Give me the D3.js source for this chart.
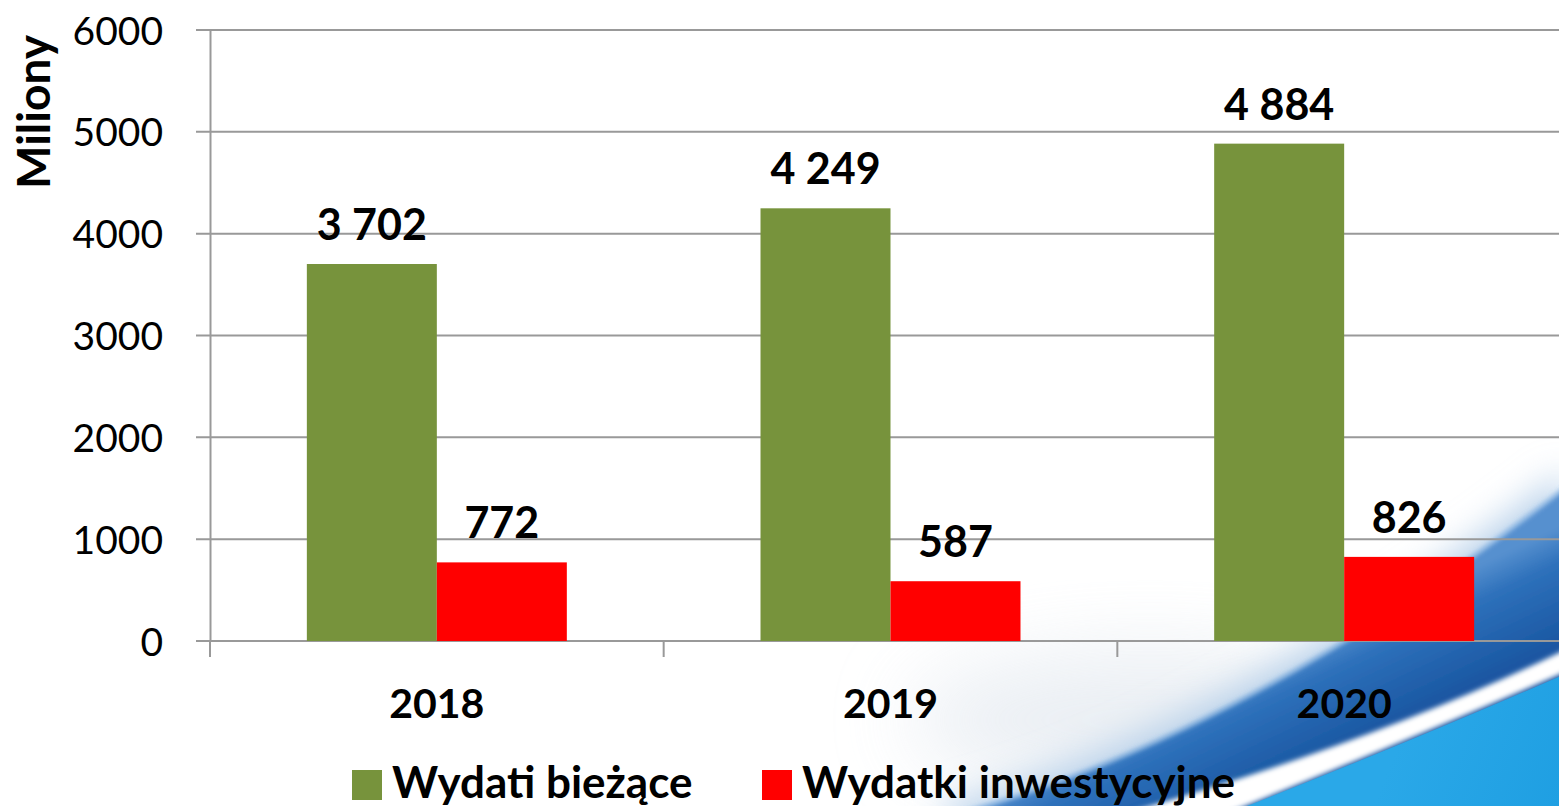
<!DOCTYPE html>
<html><head><meta charset="utf-8">
<script src="https://cdn.jsdelivr.net/npm/d3@7"></script>
<style>html,body{margin:0;padding:0;background:#fff;overflow:hidden}svg{display:block}</style>
</head><body>
<script>
const years = ["2018", "2019", "2020"];
const seriesNames = ["Wydati bieżące", "Wydatki inwestycyjne"];
const biezace = [3702, 4249, 4884];
const inwestycyjne = [772, 587, 826];
const yTicks = [0, 1000, 2000, 3000, 4000, 5000, 6000];
const colors = ["#77933c", "#ff0000"];
const yTitle = "Miliony";

const W = 1559, H = 806;
const FONT = "Lato, 'Open Sans', sans-serif";
const svg = d3.select("body").append("svg").attr("width", W).attr("height", H);
const defs = svg.append("defs");

// background swoosh (decoration)
function blur(id, sd) {
  const f = defs.append("filter").attr("id", id).attr("x","-50%").attr("y","-50%").attr("width","200%").attr("height","200%");
  f.append("feGaussianBlur").attr("stdDeviation", sd);
}
blur("blurHalo", 18); blur("blurBand", 2.5); blur("blurStripe", 2.5); blur("blurHaze", 40);

const g1 = defs.append("linearGradient").attr("id","darkBand").attr("gradientUnits","userSpaceOnUse")
  .attr("x1",1300).attr("y1",650).attr("x2",1345).attr("y2",745);
g1.append("stop").attr("offset",0).attr("stop-color","#5690cf");
g1.append("stop").attr("offset",0.3).attr("stop-color","#2e71bb");
g1.append("stop").attr("offset",1).attr("stop-color","#1a57a2");
const g2 = defs.append("linearGradient").attr("id","lightBlue").attr("gradientUnits","userSpaceOnUse")
  .attr("x1",1400).attr("y1",740).attr("x2",1559).attr("y2",806);
g2.append("stop").attr("offset",0).attr("stop-color","#2aa8e8");
g2.append("stop").attr("offset",1).attr("stop-color","#1f9fe2");

const bg = svg.append("g");
bg.append("ellipse").attr("cx",1150).attr("cy",720).attr("rx",240).attr("ry",70)
  .attr("fill","#e2e8ef").attr("opacity",0.7).attr("filter","url(#blurHaze)");
const bandD = "M950,816 Q1250,735 1572,482 L1600,840 L950,840 Z";
bg.append("path").attr("d", bandD).attr("fill","#b5cfe9").attr("filter","url(#blurHalo)")
  .attr("transform","translate(-6,-10)");
bg.append("path").attr("d", bandD).attr("fill","url(#darkBand)").attr("filter","url(#blurBand)");
bg.append("path").attr("d", "M950,816 Q1250,735 1572,482").attr("fill","none")
  .attr("stroke","#a9cdf0").attr("stroke-width",3).attr("opacity",0.7).attr("filter","url(#blurStripe)");
bg.append("path").attr("d","M1130,812 Q1380,740 1565,650 L1565,672 Q1420,735 1230,812 Z")
  .attr("fill","#ffffff").attr("filter","url(#blurStripe)");
bg.append("path").attr("d","M1232,812 Q1422,737 1565,674 L1565,812 Z")
  .attr("fill","url(#lightBlue)");

// scales
const x0 = d3.scaleBand().domain(years).range([210, 1571]).padding(0);
const x1 = d3.scaleBand().domain(seriesNames).range([0, x0.bandwidth()]).paddingInner(0).paddingOuter(0.745);
const y = d3.scaleLinear().domain([0, 6000]).range([641, 30]);

// gridlines
const grid = svg.append("g");
grid.selectAll("line").data(yTicks).join("line")
  .attr("x1", 196).attr("x2", W).attr("y1", d => y(d)).attr("y2", d => y(d))
  .attr("stroke", "#999").attr("stroke-width", 2);

// y axis
const yAxis = svg.append("g").attr("transform","translate(210,0)")
  .call(d3.axisLeft(y).tickValues(yTicks).tickSize(0).tickPadding(47).tickFormat(d3.format("d")));
yAxis.select(".domain").attr("stroke","#999").attr("stroke-width",2);
yAxis.selectAll("text").attr("font-family",FONT).attr("font-size",39).attr("fill","#000").attr("dy","0.36em");

// x axis
const xAxis = svg.append("g").attr("transform","translate(0,641)")
  .call(d3.axisBottom(x0).tickSize(0).tickPadding(0));
xAxis.select(".domain").remove();
xAxis.selectAll("text").attr("font-family",FONT).attr("font-weight","bold").attr("font-size",41)
  .attr("fill","#000").attr("y", 77).attr("dy", 0);
const tickPos = [...years.map(d => x0(d)), x0.range()[1]];
svg.append("g").selectAll("line").data(tickPos).join("line")
  .attr("x1", d => d).attr("x2", d => d).attr("y1", 641).attr("y2", 657)
  .attr("stroke","#999").attr("stroke-width",2);

// bars
const rows = years.map((yr, i) => ({year: yr, vals: [biezace[i], inwestycyjne[i]]}));
const locale = d3.formatLocale({decimal: ",", thousands: " ", grouping: [3], currency: ["", " zł"]});
const fmt = locale.format(",d");
const groups = svg.append("g").selectAll("g").data(rows).join("g")
  .attr("transform", d => `translate(${x0(d.year)},0)`);
groups.selectAll("rect").data(d => d.vals.map((v, j) => ({name: seriesNames[j], v, j}))).join("rect")
  .attr("x", d => x1(d.name)).attr("width", x1.bandwidth())
  .attr("y", d => y(d.v)).attr("height", d => y(0) - y(d.v))
  .attr("fill", d => colors[d.j]);
groups.selectAll("text").data(d => d.vals.map((v, j) => ({name: seriesNames[j], v, j}))).join("text")
  .attr("x", d => x1(d.name) + x1.bandwidth()/2).attr("y", d => y(d.v) - 24)
  .attr("text-anchor","middle").attr("font-family",FONT).attr("font-weight","bold")
  .attr("font-size",43).attr("fill","#000").text(d => fmt(d.v));

// y title
svg.append("text").attr("transform","translate(50,112) rotate(-90)")
  .attr("text-anchor","middle").attr("font-family",FONT).attr("font-weight","bold")
  .attr("font-size",46).attr("fill","#000").text(yTitle);

// legend
const legX = [352, 762];
const leg = svg.append("g").selectAll("g").data(seriesNames).join("g")
  .attr("transform", (d, i) => `translate(${legX[i]},770)`);
leg.append("rect").attr("width",30).attr("height",30).attr("fill",(d,i)=>colors[i]);
leg.append("text").attr("x",40).attr("y",28).attr("font-family",FONT).attr("font-weight","bold")
  .attr("font-size",44).attr("fill","#000").text(d => d);
</script>
</body></html>
